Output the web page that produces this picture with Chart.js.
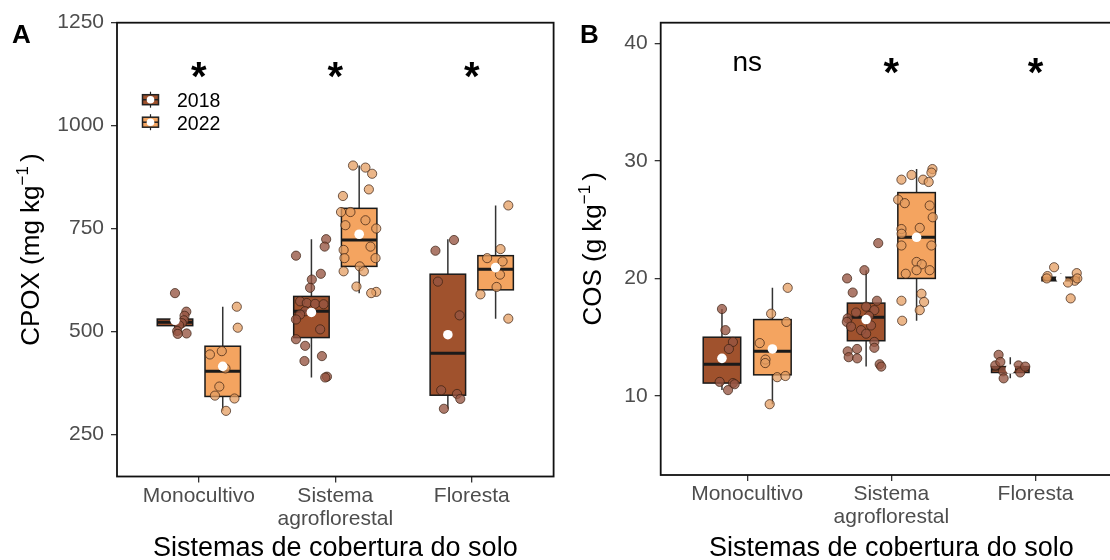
<!DOCTYPE html>
<html lang="pt">
<head>
<meta charset="utf-8">
<title>CPOX e COS por sistema de cobertura do solo</title>
<script src="https://cdn.jsdelivr.net/npm/chart.js@4.4.1/dist/chart.umd.min.js"></script>
<style>
  html, body { margin: 0; padding: 0; background: #fff; width: 1110px; height: 560px; overflow: hidden; }
  #cpoxChart { position: absolute; left: 0; top: 0; }
  #cosChart { position: absolute; left: 560px; top: 0; }
</style>
</head>
<body>
<canvas id="cpoxChart" width="560" height="560"></canvas>
<canvas id="cosChart" width="580" height="560"></canvas>
<script>
const FONT = "'Liberation Sans', Arial, Helvetica, sans-serif";

const CATEGORIES = ['Monocultivo', ['Sistema', 'agroflorestal'], 'Floresta'];
const YEARS = ['2018', '2022'];
const YEAR_FILL = ['#A0522D', '#F4A460'];
const POINT_FILL = ['rgba(150, 85, 65, 0.78)', 'rgba(228, 158, 98, 0.75)'];
const POINT_EDGE = 'rgba(55, 30, 15, 0.7)';
const DODGE = [-0.175, 0.175];
const BOX_WIDTH = 0.26;

// CPOX (mg kg-1): [whisker low, Q1, median, Q3, whisker high] per system
const cpoxBox2018 = [[494, 514, 522, 530, 536], [388, 485, 549, 585, 724], [312, 345, 447, 639, 724]];
const cpoxBox2022 = [[307, 342, 403, 464, 560], [593, 658, 722, 799, 903], [531, 601, 651, 684, 806]];
const cpoxMean2018 = [527, 546, 492];
const cpoxMean2022 = [415, 736, 655];

const cpoxPoints2018 = [
  [593, 548, 538, 527, 520, 515, 501, 495, 494],
  [724, 706, 684, 640, 626, 606, 573, 569, 567, 566, 549, 541, 529, 505, 481, 465, 440, 428, 390, 388],
  [722, 696, 621, 539, 357, 348, 336, 312]
];
const cpoxJitter2018 = [
  [0.000, 0.083, 0.070, 0.065, 0.050, 0.030, 0.016, 0.085, 0.020],
  [0.108, 0.097, -0.113, 0.069, 0.003, -0.010, -0.083, -0.034, 0.027, 0.089, -0.046, -0.083, -0.113, 0.064, -0.113, -0.046, 0.077, -0.051, 0.114, 0.101],
  [0.045, -0.091, -0.073, 0.086, -0.049, 0.067, 0.091, -0.029]
];
const cpoxPoints2022 = [
  [560, 509, 452, 444, 410, 366, 344, 337, 307],
  [903, 898, 883, 845, 829, 790, 790, 770, 758, 750, 706, 698, 678, 678, 658, 646, 646, 609, 596, 593],
  [806, 700, 678, 670, 638, 608, 590, 531]
];
const cpoxJitter2022 = [
  [0.103, 0.110, -0.007, -0.094, 0.020, -0.025, -0.057, 0.086, 0.024],
  [-0.045, 0.046, 0.095, 0.071, -0.119, -0.133, -0.064, 0.046, -0.101, 0.125, 0.083, -0.114, -0.108, 0.120, 0.004, -0.114, 0.034, -0.020, 0.125, 0.088],
  [0.093, 0.036, -0.062, 0.051, 0.032, 0.007, -0.111, 0.093]
];
const cpoxTicks = [250, 500, 750, 1000, 1250];
const cpoxSig = ['*', '*', '*'];

// COS (g kg-1)
const cosBox2018 = [[10.5, 11.1, 12.7, 15.0, 17.4], [12.5, 14.7, 16.7, 17.9, 20.7], [11.5, 12.0, 12.3, 12.5, 13.3]];
const cosBox2022 = [[9.3, 11.8, 13.8, 16.5, 19.2], [16.4, 20.0, 23.5, 27.3, 29.3], [19.65, 19.8, 19.95, 20.1, 20.45]];
const cosMean2018 = [13.2, 16.5, 12.3];
const cosMean2022 = [14.0, 23.5, 20.0];

const cosPoints2018 = [
  [17.4, 15.6, 14.6, 14.0, 11.2, 11.1, 11.0, 10.5],
  [23.0, 20.7, 20.0, 18.8, 18.1, 17.6, 17.3, 17.1, 16.8, 16.6, 16.3, 16.0, 15.9, 15.6, 15.3, 14.6, 14.1, 14.0, 13.8, 13.3, 13.2, 12.7, 12.5],
  [13.5, 12.6, 12.1, 11.5, 12.6, 12.0, 12.5, 12.9]
];
const cosJitter2018 = [
  [0.000, 0.024, 0.076, 0.048, -0.016, 0.076, 0.088, 0.042],
  [0.084, -0.012, -0.132, -0.093, 0.075, 0.000, 0.057, -0.070, 0.020, -0.128, -0.134, 0.034, -0.105, -0.035, 0.000, 0.057, 0.057, -0.063, -0.128, -0.121, -0.062, 0.094, 0.105],
  [-0.081, -0.104, -0.050, -0.046, 0.057, 0.069, 0.104, -0.069]
];
const cosPoints2022 = [
  [19.2, 17.0, 16.3, 14.5, 13.1, 12.8, 11.6, 11.7, 9.3],
  [29.3, 29.0, 28.8, 28.4, 28.4, 28.2, 26.7, 26.4, 26.2, 25.2, 24.3, 24.2, 23.8, 22.8, 22.8, 21.4, 21.2, 20.7, 20.7, 20.4, 18.7, 18.1, 18.0, 17.3, 16.4],
  [20.95, 20.2, 20.45, 19.8, 19.65, 20.0, 18.3, 20.0]
];
const cosJitter2022 = [
  [0.106, -0.009, 0.097, -0.088, -0.048, -0.050, 0.033, 0.090, -0.019],
  [0.110, 0.103, -0.035, -0.105, 0.045, 0.084, -0.128, -0.082, 0.091, 0.112, 0.022, -0.105, -0.104, -0.105, 0.103, 0.000, 0.036, 0.000, 0.091, -0.075, 0.034, -0.105, 0.052, 0.022, -0.100],
  [-0.046, -0.092, 0.111, 0.097, 0.050, 0.115, 0.069, -0.097]
];
const cosTicks = [10, 20, 30, 40];
const cosSig = ['ns', '*', '*'];

function jitterData(points, jitter, k) {
    const data = [];
    points.forEach((vals, i) => {
        vals.forEach((v, j) => data.push({ x: i + 1 + DODGE[k] + jitter[i][j], y: v }));
    });
    return data;
}

function meanData(means2018, means2022) {
    const data = [];
    [means2018, means2022].forEach((means, k) => {
        means.forEach((v, i) => data.push({ x: i + 1 + DODGE[k], y: v }));
    });
    return data;
}

// rotated axis title with a "-1" exponent
function drawYTitle(ctx, cx, cy, main, tail) {
    const size = 26, supSize = 17;
    ctx.save();
    ctx.translate(cx, cy);
    ctx.rotate(-Math.PI / 2);
    ctx.fillStyle = '#000';
    ctx.textBaseline = 'alphabetic';
    ctx.textAlign = 'left';
    ctx.font = `${size}px ${FONT}`;
    const wMain = ctx.measureText(main).width;
    const wTail = ctx.measureText(tail).width;
    ctx.font = `${supSize}px ${FONT}`;
    const sup = '\u2212' + '1';
    const wSup = ctx.measureText(sup).width;
    const total = wMain + wSup + 4 + wTail;
    const base = 0.36 * size;
    let x = -total / 2;
    ctx.font = `${size}px ${FONT}`;
    ctx.fillText(main, x, base);
    x += wMain;
    ctx.font = `${supSize}px ${FONT}`;
    ctx.fillText(sup, x, base - 0.45 * size);
    x += wSup + 4;
    ctx.font = `${size}px ${FONT}`;
    ctx.fillText(tail, x, base);
    ctx.restore();
}

function drawLegendKey(ctx, cx, cy, k) {
    ctx.save();
    ctx.strokeStyle = '#222';
    ctx.lineWidth = 1.2;
    ctx.beginPath();
    ctx.moveTo(cx, cy - 8);
    ctx.lineTo(cx, cy + 8);
    ctx.stroke();
    ctx.fillStyle = YEAR_FILL[k];
    ctx.fillRect(cx - 8, cy - 5, 16, 10);
    ctx.lineWidth = 1.5;
    ctx.strokeRect(cx - 8, cy - 5, 16, 10);
    ctx.beginPath();
    ctx.moveTo(cx - 8, cy);
    ctx.lineTo(cx + 8, cy);
    ctx.stroke();
    ctx.fillStyle = '#fff';
    ctx.beginPath();
    ctx.arc(cx, cy, 3.8, 0, Math.PI * 2);
    ctx.fill();
    ctx.restore();
}

function makePanelPlugin(cfg) {
    return {
        id: 'boxPanel',
        beforeDatasetsDraw(chart) {
            const { ctx, scales: { x, y } } = chart;
            cfg.boxes.forEach((yearBoxes, k) => {
                yearBoxes.forEach((b, i) => {
                    const c = i + 1 + DODGE[k];
                    const xl = x.getPixelForValue(c - BOX_WIDTH / 2);
                    const xr = x.getPixelForValue(c + BOX_WIDTH / 2);
                    const xm = x.getPixelForValue(c);
                    const [lo, q1, med, q3, hi] = b.map(v => y.getPixelForValue(v));
                    ctx.save();
                    ctx.strokeStyle = '#333';
                    ctx.lineWidth = 1.5;
                    ctx.beginPath();
                    ctx.moveTo(xm, lo); ctx.lineTo(xm, q1);
                    ctx.moveTo(xm, q3); ctx.lineTo(xm, hi);
                    ctx.stroke();
                    ctx.fillStyle = YEAR_FILL[k];
                    ctx.fillRect(xl, q3, xr - xl, q1 - q3);
                    ctx.strokeStyle = '#1a1a1a';
                    ctx.lineWidth = 1.5;
                    ctx.strokeRect(xl, q3, xr - xl, q1 - q3);
                    ctx.lineWidth = 3;
                    ctx.beginPath();
                    ctx.moveTo(xl, med); ctx.lineTo(xr, med);
                    ctx.stroke();
                    ctx.restore();
                });
            });
        },
        afterDraw(chart) {
            const { ctx, chartArea: a, scales: { x, y } } = chart;
            ctx.save();
            // panel frame
            ctx.strokeStyle = '#111';
            ctx.lineWidth = 1.8;
            ctx.strokeRect(a.left, a.top, a.right - a.left, a.bottom - a.top);

            // significance marks above each system
            ctx.fillStyle = '#000';
            ctx.textAlign = 'center';
            ctx.textBaseline = 'alphabetic';
            cfg.sig.forEach((s, i) => {
                const px = x.getPixelForValue(i + 1);
                const py = y.getPixelForValue(cfg.sigY);
                if (s === '*') {
                    ctx.font = `bold 40px ${FONT}`;
                    ctx.fillText(s, px, py + 0.57 * 40);
                } else {
                    ctx.font = `28px ${FONT}`;
                    ctx.fillText(s, px, py + 0.26 * 28);
                }
            });

            // panel letter
            ctx.textAlign = 'left';
            ctx.font = `bold 26px ${FONT}`;
            ctx.fillText(cfg.letter, cfg.letterX, 43);

            // axis titles
            drawYTitle(ctx, cfg.yTitleX, (a.top + a.bottom) / 2, cfg.yTitle, ')');
            ctx.textAlign = 'center';
            ctx.font = `27px ${FONT}`;
            ctx.fillText('Sistemas de cobertura do solo', (a.left + a.right) / 2, 556);

            if (cfg.legend) {
                ctx.font = `19.5px ${FONT}`;
                ctx.textAlign = 'left';
                ctx.textBaseline = 'middle';
                YEARS.forEach((yr, k) => {
                    const cy = a.top + 77 + k * 22.5;
                    drawLegendKey(ctx, a.left + 33.5, cy, k);
                    ctx.fillStyle = '#000';
                    ctx.fillText(yr, a.left + 60, cy + 2);
                });
            }
            ctx.restore();
        }
    };
}

function buildPanel(canvasId, cfg) {
    const datasets = [0, 1].map(k => ({
        type: 'scatter',
        label: YEARS[k],
        data: jitterData(cfg.points[k], cfg.jitter[k], k),
        backgroundColor: POINT_FILL[k],
        borderColor: POINT_EDGE,
        borderWidth: 1,
        pointRadius: 4.6,
        order: 3 - k
    }));
    datasets.push({
        type: 'scatter',
        label: 'média',
        data: meanData(cfg.means[0], cfg.means[1]),
        backgroundColor: '#ffffff',
        borderColor: '#ffffff',
        borderWidth: 0,
        pointRadius: 4.8,
        order: 0
    });

    return new Chart(document.getElementById(canvasId), {
        type: 'scatter',
        data: { datasets },
        options: {
            responsive: false,
            animation: false,
            devicePixelRatio: 1,
            layout: { padding: { top: 22.7, right: cfg.padRight, left: 0, bottom: 0 } },
            plugins: { legend: { display: false }, tooltip: { enabled: false } },
            scales: {
                x: {
                    type: 'linear',
                    min: 0.4,
                    max: 3.6,
                    afterBuildTicks: s => { s.ticks = [1, 2, 3].map(v => ({ value: v })); },
                    afterFit: s => { s.height = 560 - cfg.bottom; },
                    ticks: {
                        callback: v => CATEGORIES[Math.round(v) - 1],
                        color: '#4d4d4d',
                        font: { size: 21, family: FONT, lineHeight: 1.1 },
                        padding: 2,
                        maxRotation: 0,
                        autoSkip: false
                    },
                    grid: { drawOnChartArea: false, drawTicks: true, tickLength: 6, color: '#333', lineWidth: 1.3 },
                    border: { display: false }
                },
                y: {
                    type: 'linear',
                    min: cfg.yMin,
                    max: cfg.yMax,
                    afterBuildTicks: s => { s.ticks = cfg.ticks.map(v => ({ value: v })); },
                    afterFit: s => { s.width = cfg.left; },
                    ticks: {
                        callback: v => String(v),
                        color: '#4d4d4d',
                        font: { size: 21, family: FONT },
                        padding: 7
                    },
                    grid: { drawOnChartArea: false, drawTicks: true, tickLength: 6, color: '#333', lineWidth: 1.3 },
                    border: { display: false }
                }
            }
        },
        plugins: [makePanelPlugin(cfg)]
    });
}

buildPanel('cpoxChart', {
    letter: 'A', letterX: 12, legend: true,
    yTitle: 'CPOX (mg kg', yTitleX: 30,
    boxes: [cpoxBox2018, cpoxBox2022],
    means: [cpoxMean2018, cpoxMean2022],
    points: [cpoxPoints2018, cpoxPoints2022],
    jitter: [cpoxJitter2018, cpoxJitter2022],
    ticks: cpoxTicks, yMin: 147.5, yMax: 1250,
    sig: cpoxSig, sigY: 1143,
    left: 117, padRight: 6.4, bottom: 476.5
});

buildPanel('cosChart', {
    letter: 'B', letterX: 20, legend: false,
    yTitle: 'COS (g kg', yTitleX: 32,
    boxes: [cosBox2018, cosBox2022],
    means: [cosMean2018, cosMean2022],
    points: [cosPoints2018, cosPoints2022],
    jitter: [cosJitter2018, cosJitter2022],
    ticks: cosTicks, yMin: 3.28, yMax: 41.75,
    sig: cosSig, sigY: 38.3,
    left: 100.7, padRight: 18, bottom: 475
});
</script>
</body>
</html>
